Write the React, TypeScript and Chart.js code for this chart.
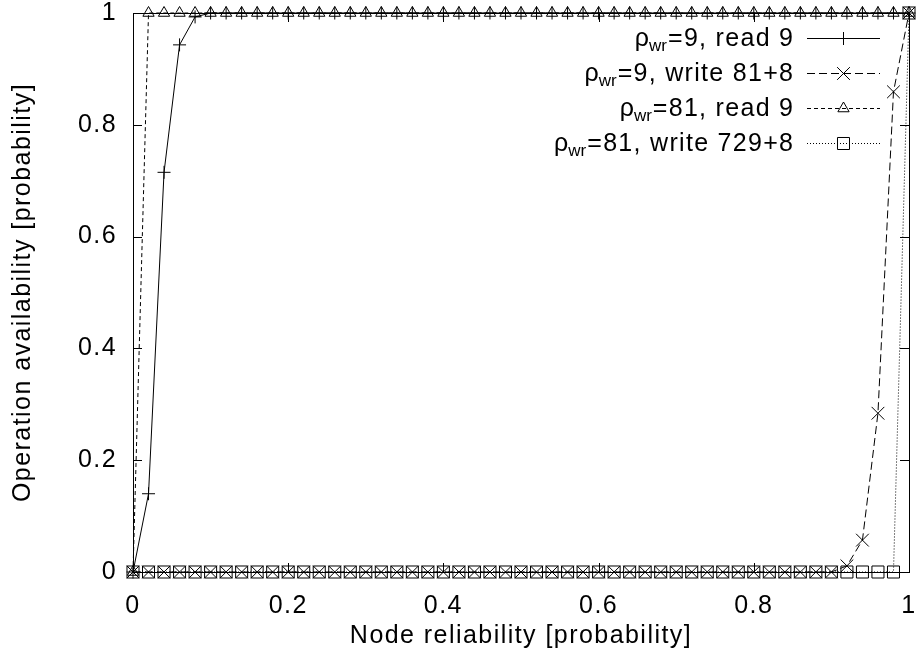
import React, { useEffect, useRef } from "react";
import { Chart, registerables } from "chart.js";

Chart.register(...registerables);

const FONT = '"Liberation Sans", Arial, Helvetica, sans-serif';
const FONT_SIZE = 25;
const LETTER_SPACING = "1.45px";

const nodeReliability = [
  0, 0.02, 0.04, 0.06, 0.08, 0.1, 0.12, 0.14, 0.16, 0.18,
  0.2, 0.22, 0.24, 0.26, 0.28, 0.3, 0.32, 0.34, 0.36, 0.38,
  0.4, 0.42, 0.44, 0.46, 0.48, 0.5, 0.52, 0.54, 0.56, 0.58,
  0.6, 0.62, 0.64, 0.66, 0.68, 0.7, 0.72, 0.74, 0.76, 0.78,
  0.8, 0.82, 0.84, 0.86, 0.88, 0.9, 0.92, 0.94, 0.96, 0.98, 1,
];

const rho9Read9 = [
  0, 0.14, 0.715, 0.943, 0.993, 1, 1, 1, 1, 1,
  1, 1, 1, 1, 1, 1, 1, 1, 1, 1,
  1, 1, 1, 1, 1, 1, 1, 1, 1, 1,
  1, 1, 1, 1, 1, 1, 1, 1, 1, 1,
  1, 1, 1, 1, 1, 1, 1, 1, 1, 1, 1,
];

const rho9Write89 = [
  0, 0, 0, 0, 0, 0, 0, 0, 0, 0,
  0, 0, 0, 0, 0, 0, 0, 0, 0, 0,
  0, 0, 0, 0, 0, 0, 0, 0, 0, 0,
  0, 0, 0, 0, 0, 0, 0, 0, 0, 0,
  0, 0, 0, 0, 0, 0, 0.011, 0.057, 0.284, 0.859, 1,
];

const rho81Read9 = [
  0, 1, 1, 1, 1, 1, 1, 1, 1, 1,
  1, 1, 1, 1, 1, 1, 1, 1, 1, 1,
  1, 1, 1, 1, 1, 1, 1, 1, 1, 1,
  1, 1, 1, 1, 1, 1, 1, 1, 1, 1,
  1, 1, 1, 1, 1, 1, 1, 1, 1, 1, 1,
];

const rho81Write737 = [
  0, 0, 0, 0, 0, 0, 0, 0, 0, 0,
  0, 0, 0, 0, 0, 0, 0, 0, 0, 0,
  0, 0, 0, 0, 0, 0, 0, 0, 0, 0,
  0, 0, 0, 0, 0, 0, 0, 0, 0, 0,
  0, 0, 0, 0, 0, 0, 0, 0, 0, 0, 1,
];

const seriesLabels = ["=9, read 9", "=9, write 81+8", "=81, read 9", "=81, write 729+8"];
const seriesValues = [rho9Read9, rho9Write89, rho81Read9, rho81Write737];
const seriesDash = [[], [8, 4], [4, 3], [1, 2]];
const seriesPointStyle = ["cross", "crossRot", "triangle", "rect"];
const seriesPointRadius = [6.5, 9, 6.5, 8.5];

const xTicks = [0, 0.2, 0.4, 0.6, 0.8, 1];
const yTicks = [0, 0.2, 0.4, 0.6, 0.8, 1];

function drawMarker(ctx: CanvasRenderingContext2D, style: string, x: number, y: number, r: number) {
  ctx.beginPath();
  if (style === "cross") {
    ctx.moveTo(x - r, y); ctx.lineTo(x + r, y);
    ctx.moveTo(x, y - r); ctx.lineTo(x, y + r);
  } else if (style === "crossRot") {
    const d = r * Math.SQRT1_2;
    ctx.moveTo(x - d, y - d); ctx.lineTo(x + d, y + d);
    ctx.moveTo(x - d, y + d); ctx.lineTo(x + d, y - d);
  } else if (style === "triangle") {
    const side = (r * 3) / Math.sqrt(3);
    const h = (side * Math.sqrt(3)) / 2;
    ctx.moveTo(x - side / 2, y + h / 3);
    ctx.lineTo(x + side / 2, y + h / 3);
    ctx.lineTo(x, y - (2 * h) / 3);
    ctx.closePath();
  } else if (style === "rect") {
    const s = r * Math.SQRT1_2;
    ctx.rect(x - s, y - s, 2 * s, 2 * s);
  }
  ctx.stroke();
}

const spacingPlugin = {
  id: "letterSpacing",
  beforeDraw(chart: any) {
    (chart.ctx as any).letterSpacing = LETTER_SPACING;
  },
};

const framePlugin = {
  id: "gnuplotFrame",
  afterDatasetsDraw(chart: any) {
    const ctx: CanvasRenderingContext2D = chart.ctx;
    const { left, right, top, bottom } = chart.chartArea;
    const xs = chart.scales.x;
    const ys = chart.scales.y;
    ctx.save();
    ctx.strokeStyle = "#000";
    ctx.lineWidth = 1;
    ctx.setLineDash([]);
    const tl = 9;
    ctx.beginPath();
    xTicks.forEach((v) => {
      const px = Math.round(xs.getPixelForValue(v)) + 0.5;
      ctx.moveTo(px, bottom); ctx.lineTo(px, bottom - tl);
      ctx.moveTo(px, top); ctx.lineTo(px, top + tl);
    });
    yTicks.forEach((v) => {
      const py = Math.round(ys.getPixelForValue(v)) + 0.5;
      ctx.moveTo(left, py); ctx.lineTo(left + tl, py);
      ctx.moveTo(right, py); ctx.lineTo(right - tl, py);
    });
    ctx.stroke();
    ctx.strokeRect(Math.round(left) + 0.5, Math.round(top) + 0.5, Math.round(right - left), Math.round(bottom - top));

    // legend (gnuplot style: right-aligned text, sample to the right)
    const textRight = 793;
    const lineStart = 807;
    const lineEnd = 880;
    const rowY = [38, 73, 107.5, 142.5];
    ctx.fillStyle = "#000";
    ctx.textBaseline = "alphabetic";
    ctx.textAlign = "left";
    const mainFont = `${FONT_SIZE}px ${FONT}`;
    const subFont = `17px ${FONT}`;
    for (let i = 0; i < seriesLabels.length; i++) {
      const y = rowY[i];
      const base = y + 8;
      (ctx as any).letterSpacing = "0px";
      ctx.font = mainFont;
      const wRho = ctx.measureText("\u03C1").width;
      ctx.font = subFont;
      const wSub = ctx.measureText("wr").width + 1;
      (ctx as any).letterSpacing = "1.3px";
      ctx.font = mainFont;
      const wRest = ctx.measureText(seriesLabels[i]).width - 1.3;
      let x = textRight - (wRho + wSub + wRest);
      (ctx as any).letterSpacing = "0px";
      ctx.font = mainFont;
      ctx.fillText("\u03C1", x, base);
      x += wRho;
      ctx.font = subFont;
      ctx.fillText("wr", x, base + 5);
      x += wSub;
      (ctx as any).letterSpacing = "1.3px";
      ctx.font = mainFont;
      ctx.fillText(seriesLabels[i], x, base);
      ctx.beginPath();
      ctx.setLineDash(seriesDash[i]);
      ctx.moveTo(lineStart, Math.round(y) + 0.5);
      ctx.lineTo(lineEnd, Math.round(y) + 0.5);
      ctx.stroke();
      ctx.setLineDash([]);
      drawMarker(ctx, seriesPointStyle[i], (lineStart + lineEnd) / 2, Math.round(y) + 0.5, seriesPointRadius[i]);
    }
    ctx.restore();
  },
};

const fmt = (v: any) => String(+Number(v).toFixed(1));

export default function App() {
  const canvasRef = useRef<HTMLCanvasElement | null>(null);

  useEffect(() => {
    const canvas = canvasRef.current;
    if (!canvas) return;
    Chart.defaults.color = "#000";
    Chart.defaults.font.family = FONT;
    Chart.defaults.font.size = FONT_SIZE;
    const datasets = seriesValues.map((vals, i) => ({
      label: "\u03C1wr" + seriesLabels[i],
      data: nodeReliability.map((x, j) => ({ x, y: vals[j] })),
      borderColor: "#000",
      backgroundColor: "rgba(0,0,0,0)",
      borderWidth: 1,
      borderDash: seriesDash[i],
      pointStyle: seriesPointStyle[i] as any,
      pointRadius: seriesPointRadius[i],
      pointBorderWidth: 1,
      pointBorderColor: "#000",
      pointBackgroundColor: "rgba(0,0,0,0)",
      tension: 0,
      clip: false as any,
      fill: false,
    }));
    const chart = new Chart(canvas, {
      type: "line",
      data: { datasets },
      options: {
        animation: false,
        responsive: true,
        maintainAspectRatio: false,
        layout: { padding: { top: 13, right: 9, left: 0, bottom: 0 } },
        plugins: { legend: { display: false }, tooltip: { enabled: false } },
        scales: {
          x: {
            type: "linear",
            min: 0,
            max: 1,
            afterFit: (s: any) => { s.height = 88; s.paddingLeft = 0; s.paddingRight = 0; },
            afterBuildTicks: (s: any) => { s.ticks = xTicks.map((v) => ({ value: v })); },
            grid: { display: false, drawTicks: false },
            border: { display: false },
            ticks: { padding: 19, font: { size: FONT_SIZE }, color: "#000", callback: fmt, maxRotation: 0 },
            title: { display: true, text: "Node reliability [probability]", font: { size: FONT_SIZE }, color: "#000", padding: 9 },
          },
          y: {
            type: "linear",
            min: 0,
            max: 1,
            afterFit: (s: any) => { s.width = 133; s.paddingTop = 0; s.paddingBottom = 0; },
            afterBuildTicks: (s: any) => { s.ticks = yTicks.map((v) => ({ value: v })); },
            grid: { display: false, drawTicks: false },
            border: { display: false },
            ticks: { padding: 16, font: { size: FONT_SIZE }, color: "#000", callback: fmt },
            title: { display: true, text: "Operation availability [probability]", font: { size: FONT_SIZE }, color: "#000", padding: 8 },
          },
        },
      },
      plugins: [spacingPlugin, framePlugin],
    });
    return () => chart.destroy();
  }, []);

  return (
    <div style={{ position: "fixed", left: 0, top: 0, width: 919, height: 660, background: "#fff" }}>
      <canvas ref={canvasRef} />
    </div>
  );
}
